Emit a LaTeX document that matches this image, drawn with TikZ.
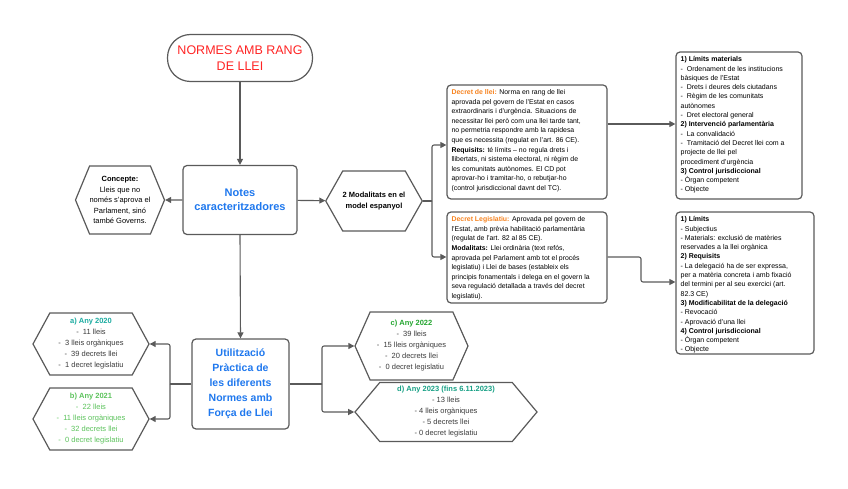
\documentclass[tikz,border=0pt]{standalone}
\usepackage{fontspec}
\setmainfont{Liberation Sans}
\usetikzlibrary{shapes.symbols,arrows.meta}
\definecolor{edgegray}{HTML}{5A5A5A}
\definecolor{textgray}{HTML}{3C3C3C}
\definecolor{normred}{HTML}{FF2424}
\definecolor{noteblue}{HTML}{1F78EE}
\definecolor{decorange}{HTML}{F7831F}
\definecolor{tealA}{HTML}{1AABA0}
\definecolor{greenB}{HTML}{5CC35C}
\definecolor{greenC}{HTML}{22A52E}
\definecolor{tealD}{HTML}{17A085}
\tikzset{
  box/.style={draw=edgegray, line width=1.2pt, rounded corners=4pt, fill=white, inner sep=0pt},
  hexa/.style={draw=edgegray, line width=1.2pt, shape=signal, signal to=west and east, fill=white, inner xsep=0pt, inner ysep=0pt, align=center},
  smalltext/.style={font=\fontsize{6.9}{9.6}\selectfont, align=left, inner sep=0pt, anchor=north west},
  sidetext/.style={font=\fontsize{7}{9.3}\selectfont, align=left, inner sep=0pt, anchor=north west},
  hextext/.style={font=\fontsize{7.5}{11}\selectfont, text=textgray},
  link/.style={draw=edgegray, line width=1.1pt, rounded corners=2pt, -{Triangle[length=6pt,width=6pt]}},
  wire/.style={draw=edgegray, line width=1.1pt},
}
\begin{document}
\begin{tikzpicture}[x=1pt,y=-1pt]
  %%%%% START %%%%%
  \useasboundingbox (0,0) rectangle (848,489);

  % upper row
  \node[box, rounded corners=23pt, minimum width=145pt, minimum height=47pt, align=center,
        text=normred, font=\fontsize{12.5}{16}\selectfont] (title) at (240,58) {NORMES AMB RANG\\DE LLEI};
  \node[box, minimum width=114pt, minimum height=69pt, align=center, text=noteblue,
        font=\bfseries\fontsize{11}{14}\selectfont] (notes) at (240,200) {Notes\\caracteritzadores};
  \node[hexa, signal pointer angle=135, minimum width=82pt, minimum height=68pt,
        font=\fontsize{7.5}{10.5}\selectfont] (concept) at (120,200)
        {\textbf{Concepte:}\\Lleis que no\\només s'aprova el\\Parlament, sinó\\també Governs.};
  \node[hexa, signal pointer angle=121, minimum width=92pt, minimum height=60pt,
        font=\bfseries\fontsize{7.5}{10.5}\selectfont] (mod) at (374,201) {2 Modalitats en el\\model espanyol};

  % the two kinds of decree
  \node[box, minimum width=160pt, minimum height=114pt] (dl) at (527,142) {};
  \node[smalltext] (dltext) at ([xshift=5pt,yshift=-5pt]dl.north west)
    {\textcolor{decorange}{\textbf{Decret de llei:}} Norma en rang de llei\\
     aprovada pel govern de l'Estat en casos\\
     extraordinaris i d'urgència. Situacions de\\
     necessitar llei però com una llei tarde tant,\\
     no permetria respondre amb la rapidesa\\
     que es necessita (regulat en l'art. 86 CE).\\
     \textbf{Requisits:} té límits – no regula drets i\\
     llibertats, ni sistema electoral, ni règim de\\
     les comunitats autònomes. El CD pot\\
     aprovar-ho i tramitar-ho, o rebutjar-ho\\
     (control jurisdiccional davnt del TC).};
  \node[box, minimum width=160pt, minimum height=91pt] (dleg) at (527,257.5) {};
  \node[smalltext] (dlegtext) at ([xshift=5pt,yshift=-5pt]dleg.north west)
    {\textcolor{decorange}{\textbf{Decret Legislatiu:}} Aprovada pel govern de\\
     l'Estat, amb prèvia habilitació parlamentària\\
     (regulat de l'art. 82 al 85 CE).\\
     \textbf{Modalitats:} Llei ordinària (text refós,\\
     aprovada pel Parlament amb tot el procés\\
     legislatiu) i Llei de bases (estableix els\\
     principis fonamentals i delega en el govern la\\
     seva regulació detallada a través del decret\\
     legislatiu).};

  % right column
  \node[box, minimum width=126pt, minimum height=147pt] (tr) at (739,125.5) {};
  \node[sidetext] (trtext) at ([xshift=5pt,yshift=-5pt]tr.north west)
    {\textbf{1) Límits materials}\\
     -~ Ordenament de les institucions\\
     bàsiques de l'Estat\\
     -~ Drets i deures dels ciutadans\\
     -~ Règim de les comunitats\\
     autònomes\\
     -~ Dret electoral general\\
     \textbf{2) Intervenció parlamentària}\\
     -~ La convalidació\\
     -~ Tramitació del Decret llei com a\\
     projecte de llei pel\\
     procediment d'urgència\\
     \textbf{3) Control jurisdiccional}\\
     - Òrgan competent\\
     - Objecte};
  \node[box, minimum width=138pt, minimum height=142pt] (lr) at (745,283) {};
  \node[sidetext] (lrtext) at ([xshift=5pt,yshift=-5pt]lr.north west)
    {\textbf{1) Límits}\\
     - Subjectius\\
     - Materials: exclusió de matèries\\
     reservades a la llei orgànica\\
     \textbf{2) Requisits}\\
     - La delegació ha de ser expressa,\\
     per a matèria concreta i amb fixació\\
     del termini per al seu exercici (art.\\
     82.3 CE)\\
     \textbf{3) Modificabilitat de la delegació}\\
     - Revocació\\
     - Aprovació d'una llei\\
     \textbf{4) Control jurisdiccional}\\
     - Òrgan competent\\
     - Objecte};

  % lower part
  \node[box, minimum width=97pt, minimum height=90pt, align=center, text=noteblue,
        font=\bfseries\fontsize{10.5}{15}\selectfont] (util) at (240.5,384)
        {Utilització\\Pràctica de\\les diferents\\Normes amb\\Força de Llei};
  \node[hexa, hextext, signal pointer angle=123, minimum width=116pt, minimum height=62pt] (y20) at (91,344)
    {\textcolor{tealA}{\textbf{a) Any 2020}}\\-~ 11 lleis\\-~ 3 lleis orgàniques\\-~ 39 decrets llei\\-~ 1 decret legislatiu};
  \node[hexa, hextext, text=greenB, signal pointer angle=123, minimum width=116pt, minimum height=62pt] (y21) at (91,419)
    {\textbf{b) Any 2021}\\-~ 22 lleis\\-~ 11 lleis orgàniques\\-~ 32 decrets llei\\-~ 0 decret legislatiu};
  \node[hexa, hextext, signal pointer angle=132, minimum width=113pt, minimum height=68pt] (y22) at (411.5,346)
    {\textcolor{greenC}{\textbf{c) Any 2022}}\\-~ 39 lleis\\-~ 15 lleis orgàniques\\-~ 20 decrets llei\\-~ 0 decret legislatiu};
  \node[hexa, hextext, signal pointer angle=100, minimum width=182pt, minimum height=59pt] (y23) at (446,412)
    {\textcolor{tealD}{\textbf{d) Any 2023 (fins 6.11.2023)}}\\- 13 lleis\\- 4 lleis orgàniques\\- 5 decrets llei\\- 0 decret legislatiu};

  % connectors
  \coordinate (jmod) at (432,201);
  \coordinate (jleft) at (170,384);
  \coordinate (jright) at (322,384);
  \draw[link] (title) -- (notes);
  \draw[link] (notes) -- (concept);
  \draw[link] (notes) -- (mod);
  \draw[link] (notes.south) -- (util.north);
  \draw[wire] (mod.east) -- (jmod);
  \draw[link] (jmod) |- (dl.west |- 0,145);
  \draw[link] (jmod) |- (dleg.west |- 0,257);
  \draw[link] (dl.east |- 0,124) -- (tr.west |- 0,124);
  \draw[link] (dleg.east |- 0,257) -- (641,257) |- (lr.west |- 0,282);
  \draw[wire] (util.west) -- (jleft);
  \draw[link] (jleft) |- (y20.east);
  \draw[link] (jleft) |- (y21.east);
  \draw[wire] (util.east) -- (jright);
  \draw[link] (jright) |- (y22.west);
  \draw[link] (jright) |- (y23.west);
  %%%%% END %%%%%
\end{tikzpicture}
\end{document}
